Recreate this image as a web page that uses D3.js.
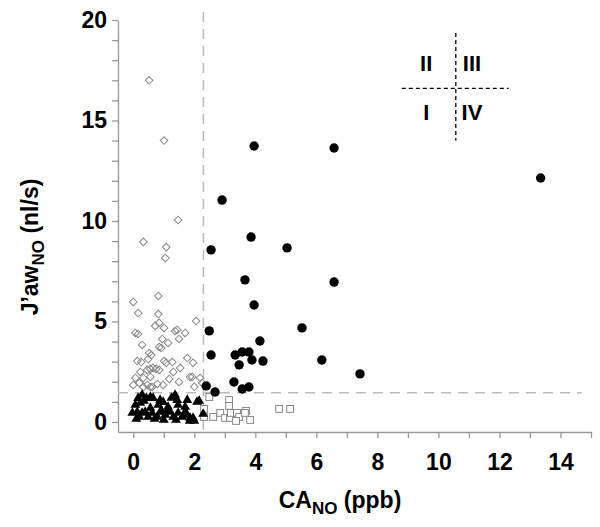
<!DOCTYPE html>
<html>
<head>
  <meta charset="utf-8">
  <script src="https://d3js.org/d3.v7.min.js"></script>
  <style>
    body { margin: 0; background: #fff; }
    svg { font-family: "Liberation Sans", Arial, sans-serif; }
    .tick text { font-weight: bold; font-size: 23px; fill: #000; }
    .axis path, .axis line { stroke: #999; stroke-width: 1.3; }
  </style>
</head>
<body>
<svg width="600" height="527"></svg>

<script>
// quadrant I : low CA, low J'aw  (filled triangles)
var quadI = [
  [0.16,1.19],[0.29,1.34],[0.43,1.19],[0.56,1.24],[0.65,1.19],[0.88,1.09],[0.98,0.99],
  [1.37,1.34],[1.44,1.09],[1.77,1.09],[0.07,0.85],[0.23,0.95],[0.82,0.85],[1.14,0.75],
  [1.47,0.85],[1.70,0.75],[2.09,1.00],[2.16,1.05],[-0.03,0.45],[0.13,0.50],[0.29,0.45],
  [0.39,0.50],[0.49,0.25],[0.62,0.45],[0.79,0.25],[0.95,0.50],[1.05,0.35],[1.21,0.50],
  [1.31,0.25],[1.47,0.45],[1.60,0.25],[1.77,0.35],[1.86,0.20],[1.96,0.20],[1.70,0.50],
  [0.56,0.70],[1.14,0.60],[2.29,0.40],[0.20,0.25],[0.70,0.15],[1.00,0.10],[1.40,0.10],
  [1.85,0.05],[2.00,0.05],[0.35,1.05],[1.25,1.20],[0.10,0.15],[0.90,0.55]
];

// quadrant II : low CA, high J'aw  (open diamonds)
var quadII = [
  [0.52,17.0],[1.01,14.0],[1.47,10.05],[0.33,8.96],[1.08,8.7],[1.05,8.16],
  [0.82,6.27],[0.00,5.97],[0.16,5.42],[0.82,5.37],[2.06,5.02],[0.85,4.93],[0.72,4.78],
  [0.07,4.43],[0.16,4.38],[1.01,4.68],[1.37,4.53],[1.44,4.58],[1.70,4.43],[1.50,4.13],
  [0.95,4.13],[1.14,3.93],[0.29,3.83],[0.85,3.73],[0.92,3.68],[0.52,3.43],[0.59,3.33],
  [0.49,3.13],[0.13,3.03],[0.26,2.98],[1.01,3.03],[1.08,2.94],[1.28,2.98],[1.77,3.18],
  [1.96,2.94],[0.65,2.69],[0.46,2.59],[0.56,2.64],[0.75,2.64],[0.85,2.59],[1.31,2.49],
  [1.54,2.69],[1.86,2.24],[0.23,2.49],[0.07,2.19],[0.33,2.19],[0.56,2.24],[1.18,2.14],
  [1.50,1.99],[2.19,2.19],[0.00,1.84],[0.20,1.94],[0.33,1.74],[0.62,1.74],[0.79,1.89],
  [0.98,1.84],[2.26,1.94],[1.93,2.24],[2.00,1.75],[0.46,1.84],[0.56,1.74]
];

// quadrant III : high CA, high J'aw  (filled circles)
var quadIII = [
  [3.96,13.73],[6.58,13.63],[13.35,12.14],[2.91,11.04],[3.86,9.20],[2.55,8.56],[5.04,8.66],
  [3.66,7.07],[6.58,6.96],[3.96,5.82],[2.49,4.53],[5.53,4.68],[4.15,4.03],[2.55,3.33],
  [3.34,3.33],[3.57,3.48],[3.79,3.48],[3.89,3.08],[4.25,3.03],[3.47,2.84],[6.18,3.08],
  [7.43,2.39],[2.39,1.79],[3.30,1.99],[3.57,1.64],[3.79,1.74],[2.68,1.49]
];

// quadrant IV : high CA, low J'aw  (open squares)
var quadIV = [
  [2.49,1.24],[3.14,1.09],[3.14,0.80],[2.32,0.65],[2.62,0.25],[2.85,0.45],[3.01,0.20],
  [3.17,0.20],[3.20,0.45],[3.40,0.45],[3.47,0.25],[3.37,0.05],[3.70,0.55],[3.66,0.45],
  [3.83,0.10],[4.78,0.65],[5.14,0.65],[2.32,0.25]
];

// cut-off lines and tick labels
var cutX = 2.3, cutY = 1.45;
var xTicks = [0, 2, 4, 6, 8, 10, 12, 14];
var yTicks = [0, 5, 10, 15, 20];
var quadLabels = [["II", 9.6, 17.85], ["III", 11.1, 17.85], ["I", 9.6, 15.4], ["IV", 11.1, 15.4]];

var svg = d3.select("svg");

var x = d3.scaleLinear().domain([-0.5, 15]).range([118, 591]);
var y = d3.scaleLinear().domain([-0.5, 20]).range([432, 20]);

// x axis
svg.append("g")
    .attr("class", "axis xaxis")
    .attr("transform", "translate(0," + y(-0.5) + ")")
    .call(d3.axisBottom(x)
      .tickValues(d3.range(0, 16))
      .tickSize(6)
      .tickSizeOuter(0)
      .tickPadding(16)
      .tickFormat(function(d) { return xTicks.indexOf(d) >= 0 ? d : ""; }));

// y axis
svg.append("g")
    .attr("class", "axis yaxis")
    .attr("transform", "translate(" + x(-0.5) + ",0)")
    .call(d3.axisLeft(y)
      .tickValues(d3.range(0, 21))
      .tickSize(6)
      .tickSizeOuter(0)
      .tickPadding(5)
      .tickFormat(function(d) { return yTicks.indexOf(d) >= 0 ? d : ""; }));

// dashed cut-off lines
svg.append("line")
    .attr("x1", x(cutX)).attr("x2", x(cutX))
    .attr("y1", y(20.4)).attr("y2", y(-0.5))
    .attr("stroke", "#bbb").attr("stroke-width", 1.5)
    .attr("stroke-dasharray", "10,7");

svg.append("line")
    .attr("x1", x(-0.5)).attr("x2", x(14.7))
    .attr("y1", y(cutY)).attr("y2", y(cutY))
    .attr("stroke", "#bbb").attr("stroke-width", 1.5)
    .attr("stroke-dasharray", "10,7");

// quadrant II diamonds
svg.append("g").selectAll("rect")
  .data(quadII)
  .enter().append("rect")
    .attr("x", -2.7).attr("y", -2.7)
    .attr("width", 5.4).attr("height", 5.4)
    .attr("transform", function(d) { return "translate(" + x(d[0]) + "," + y(d[1]) + ") rotate(45)"; })
    .attr("fill", "none")
    .attr("stroke", "#888")
    .attr("stroke-width", 1);

// quadrant IV squares
svg.append("g").selectAll("rect")
  .data(quadIV)
  .enter().append("rect")
    .attr("x", function(d) { return x(d[0]) - 3.4; })
    .attr("y", function(d) { return y(d[1]) - 3.4; })
    .attr("width", 6.8).attr("height", 6.8)
    .attr("fill", "#fff")
    .attr("stroke", "#888")
    .attr("stroke-width", 1);

// quadrant I triangles
svg.append("g").selectAll("path")
  .data(quadI)
  .enter().append("path")
    .attr("d", d3.symbol().type(d3.symbolTriangle).size(42))
    .attr("transform", function(d) { return "translate(" + x(d[0]) + "," + y(d[1]) + ")"; })
    .attr("fill", "#000");

// quadrant III circles
svg.append("g").selectAll("circle")
  .data(quadIII)
  .enter().append("circle")
    .attr("cx", function(d) { return x(d[0]); })
    .attr("cy", function(d) { return y(d[1]); })
    .attr("r", 4.7)
    .attr("fill", "#000");

// little quadrant key in the corner
svg.append("line")
    .attr("x1", x(10.57)).attr("x2", x(10.57))
    .attr("y1", y(19.35)).attr("y2", y(14.0))
    .attr("stroke", "#000").attr("stroke-width", 1.3)
    .attr("stroke-dasharray", "4,3");

svg.append("line")
    .attr("x1", x(8.8)).attr("x2", x(12.3))
    .attr("y1", y(16.6)).attr("y2", y(16.6))
    .attr("stroke", "#000").attr("stroke-width", 1.3)
    .attr("stroke-dasharray", "4,3");

svg.append("g").selectAll("text")
  .data(quadLabels)
  .enter().append("text")
    .attr("x", function(d) { return x(d[1]); })
    .attr("y", function(d) { return y(d[2]); })
    .attr("dy", "0.35em")
    .style("text-anchor", "middle")
    .style("font-weight", "bold")
    .style("font-size", "22px")
    .text(function(d) { return d[0]; });

// x axis label
var xl = svg.append("text")
    .attr("x", 340)
    .attr("y", 508)
    .style("text-anchor", "middle")
    .style("font-weight", "bold")
    .style("font-size", "23px");
xl.append("tspan").text("CA");
xl.append("tspan").attr("dy", 6).style("font-size", "17px").text("NO");
xl.append("tspan").attr("dy", -6).text(" (ppb)");

// y axis label
var yl = svg.append("text")
    .attr("transform", "translate(38,247) rotate(-90)")
    .style("text-anchor", "middle")
    .style("font-weight", "bold")
    .style("font-size", "23px");
yl.append("tspan").text("J\u2019aw");
yl.append("tspan").attr("dy", 6).style("font-size", "17px").text("NO");
yl.append("tspan").attr("dy", -6).text(" (nl/s)");
</script>
</body>
</html>
